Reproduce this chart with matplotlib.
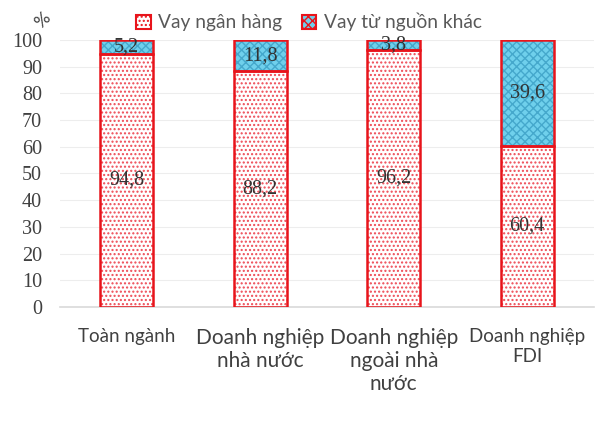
import matplotlib
matplotlib.use("Agg")
import matplotlib.pyplot as plt
import numpy as np
from matplotlib.patches import Patch

categories = ["Toàn ngành", "Doanh nghiệp\nnhà nước", "Doanh nghiệp\nngoài nhà\nnước", "Doanh nghiệp\nFDI"]
bank = [94.8, 88.2, 96.2, 60.4]
other = [5.2, 11.8, 3.8, 39.6]
series_names = ["Vay ngân hàng", "Vay từ nguồn khác"]
yticks = [0, 10, 20, 30, 40, 50, 60, 70, 80, 90, 100]

plt.rcParams['hatch.linewidth'] = 1.0
sans = ['Lato', 'DejaVu Sans']
serif = ['Liberation Serif', 'DejaVu Serif']
txt = '#404040'

fig = plt.figure(figsize=(6, 4.43), dpi=100)
ax = fig.add_axes([0.10, 0.307, 0.89, 0.603])
x = np.arange(len(categories))
w = 0.4

# fills with hatch
ax.bar(x, bank, w, facecolor='white', edgecolor='#EE4A55', hatch='....', linewidth=0, zorder=2)
ax.bar(x, other, w, bottom=bank, facecolor='#6FD0EC', edgecolor='#45A8CC', hatch='xxxx', linewidth=0, zorder=2)
# outlines
ax.bar(x, bank, w, facecolor='none', edgecolor='#E8141B', linewidth=1.8, zorder=3)
ax.bar(x, other, w, bottom=bank, facecolor='none', edgecolor='#E8141B', linewidth=1.8, zorder=3)

for i in range(len(x)):
    ax.text(x[i], bank[i] / 2, f"{bank[i]:.1f}".replace('.', ','), ha='center', va='center',
            fontsize=14.5, family=serif, color='#333333', zorder=4)
    ax.text(x[i], bank[i] + other[i] / 2, f"{other[i]:.1f}".replace('.', ','), ha='center', va='center',
            fontsize=14.5, family=serif, color='#333333', zorder=4)

ax.set_ylim(0, 100)
ax.set_xlim(-0.5, len(x) - 0.5)
ax.set_yticks(yticks)
ax.set_yticklabels([str(t) for t in yticks], family=serif, fontsize=14.5, color=txt)
ax.tick_params(axis='y', length=0, pad=13)
ax.tick_params(axis='x', length=0, pad=15)
ax.set_xticks(x)
ax.set_xticklabels(categories, family=sans, color=txt, va='top', linespacing=1.2)
sizes = [13.5, 15, 15, 13.5]
for lab, s in zip(ax.get_xticklabels(), sizes):
    lab.set_fontsize(s)

for t in yticks[1:]:
    ax.axhline(t, color='#EDEDED', linewidth=0.8, zorder=0)
for s in ['top', 'right', 'left']:
    ax.spines[s].set_visible(False)
ax.spines['bottom'].set_color('#D9D9D9')
ax.spines['bottom'].set_linewidth(1.2)

fig.text(0.072, 0.955, "%", rotation=45, ha='center', va='center', fontsize=13, color=txt, family=sans)

h1 = Patch(facecolor='white', edgecolor='#E8141B', hatch='....', linewidth=1.5)
h2 = Patch(facecolor='#6FD0EC', edgecolor='#E8141B', hatch='xxxx', linewidth=1.5)
leg = fig.legend([h1, h2], series_names, loc='center', bbox_to_anchor=(0.515, 0.95), ncol=2,
                 frameon=False, prop={'family': sans, 'size': 13.8}, handlelength=0.75, handleheight=0.75,
                 handletextpad=0.4, columnspacing=1.0)
for t in leg.get_texts():
    t.set_color('#595959')

fig.savefig("out.png", dpi=100)
